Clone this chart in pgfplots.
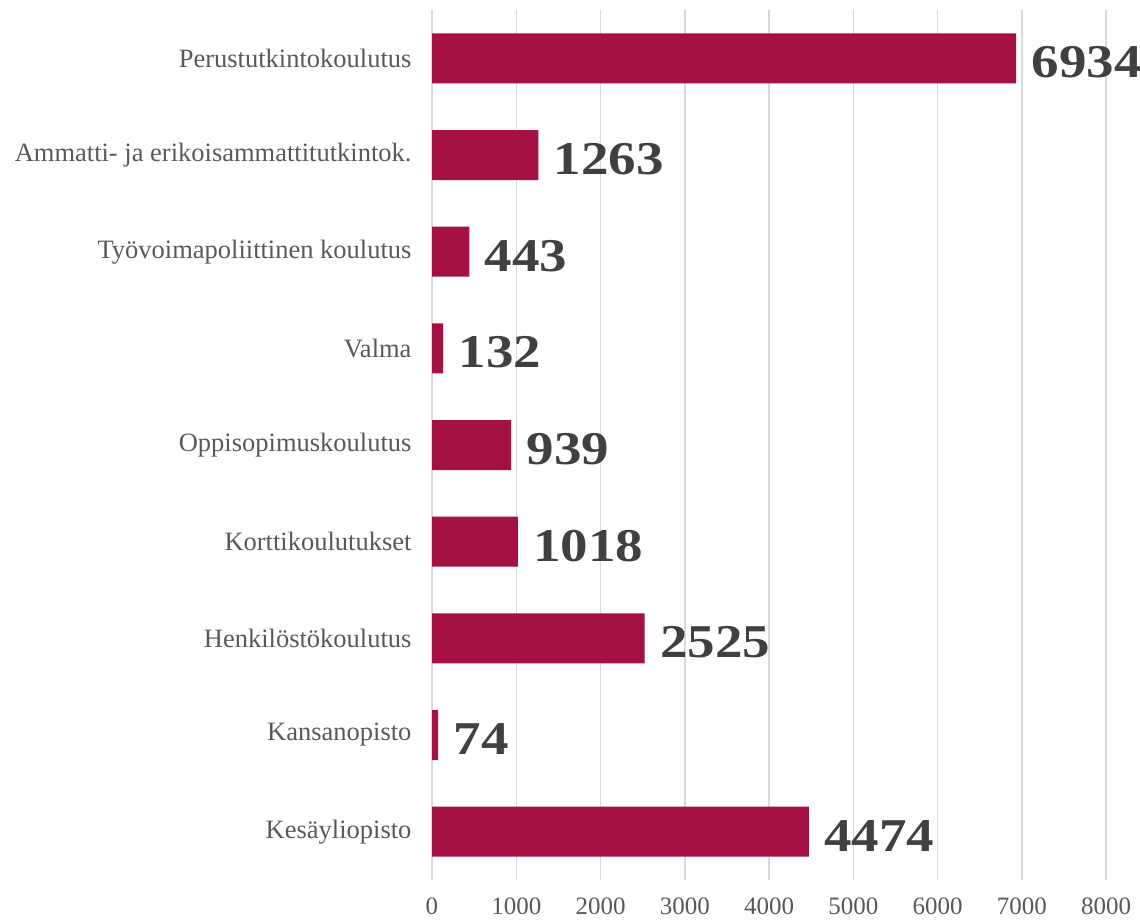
\documentclass[border=0pt]{standalone}
\usepackage{fontspec}
\setmainfont{Liberation Serif}
\newfontfamily\valfont{Liberation Serif}[FakeStretch=1.17]
\usepackage{pgfplots}
\pgfplotsset{compat=1.18}
\definecolor{barc}{RGB}{165,17,64}
\definecolor{gridc}{RGB}{217,217,217}
\definecolor{labc}{RGB}{89,89,89}
\definecolor{valc}{RGB}{64,64,64}
\begin{document}
\begin{tikzpicture}[x=1pt,y=1pt]
\begin{axis}[
  at={(432pt,40pt)}, anchor=south west,
  scale only axis, width=674pt, height=870pt,
  xmin=0, xmax=8000, ymin=0.5, ymax=9.5, y dir=reverse,
  ytick={1,...,9},
  yticklabels={Perustutkintokoulutus, Ammatti- ja erikoisammattitutkintok., Työvoimapoliittinen koulutus, Valma, Oppisopimuskoulutus, Korttikoulutukset, Henkilöstökoulutus, Kansanopisto, Kesäyliopisto},
  xtick={0,1000,...,8000},
  xmajorgrids, major grid style={draw=gridc, line width=1.5pt},
  axis line style={draw=none}, major tick length=0pt,
  /pgf/number format/assume math mode=true,
  /pgf/number format/set thousands separator={},
  scaled x ticks=false,
  xticklabel style={font=\fontsize{25}{25}\selectfont, text=labc, yshift=-14pt},
  yticklabel style={font=\fontsize{26.5}{26.5}\selectfont, text=labc, xshift=-17pt},
  xbar, bar width=50pt, bar shift=0pt,
  nodes near coords, point meta=x,
  nodes near coords style={font=\valfont\fontsize{47}{47}\bfseries, text=valc, anchor=west, xshift=12pt, yshift=-4pt},
]
\addplot[fill=barc, draw=none] coordinates {
(6934,1) (1263,2) (443,3) (132,4) (939,5) (1018,6) (2525,7) (74,8) (4474,9)};
\end{axis}
\pgfresetboundingbox
\path (0,0) rectangle (1140,920);
\end{tikzpicture}
\end{document}
